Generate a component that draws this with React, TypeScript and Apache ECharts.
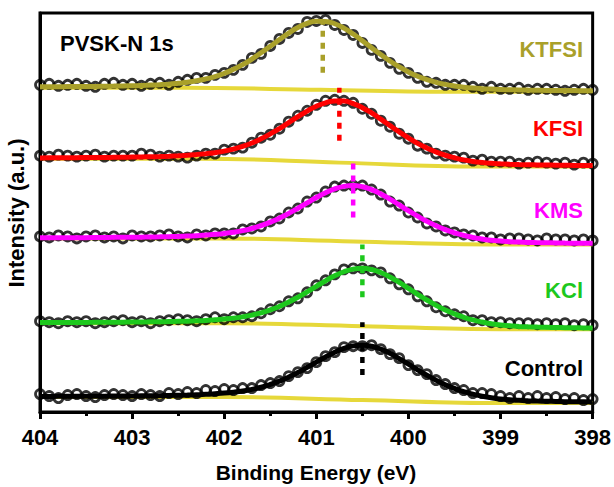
import React, { useEffect, useRef } from "react";
import * as echarts from "echarts";

// Binding energies (eV), 0.1 eV step
const energies = [
  404, 403.9, 403.8, 403.7, 403.6, 403.5, 403.4, 403.3, 403.2, 403.1,
  403, 402.9, 402.8, 402.7, 402.6, 402.5, 402.4, 402.3, 402.2, 402.1,
  402, 401.9, 401.8, 401.7, 401.6, 401.5, 401.4, 401.3, 401.2, 401.1,
  401, 400.9, 400.8, 400.7, 400.6, 400.5, 400.4, 400.3, 400.2, 400.1,
  400, 399.9, 399.8, 399.7, 399.6, 399.5, 399.4, 399.3, 399.2, 399.1,
  399, 398.9, 398.8, 398.7, 398.6, 398.5, 398.4, 398.3, 398.2, 398.1,
  398,
];

const xTicks = [404, 403, 402, 401, 400, 399, 398];

// ---- KTFSI ----
const ktfsiFit = [
  326.0, 326.0, 326.1, 326.2, 326.2, 326.4, 326.4, 326.6, 326.7, 326.9,
  327.1, 327.3, 327.7, 328.1, 328.7, 329.6, 330.6, 332.0, 333.9, 336.2,
  339.4, 343.5, 348.2, 353.8, 360.1, 366.6, 373.4, 379.9, 385.4, 389.6,
  391.8, 391.6, 389.2, 384.8, 378.9, 372.2, 365.2, 358.3, 351.8, 346.0,
  340.9, 336.6, 333.2, 330.5, 328.4, 326.8, 325.6, 324.7, 324.1, 323.7,
  323.3, 323.1, 322.9, 322.7, 322.6, 322.4, 322.4, 322.2, 322.2, 322.1,
  322.0,
];
const ktfsiData = [
  328, 329, 327, 328, 329, 327, 326, 329, 330, 328,
  329, 327, 329, 330, 328, 331, 333, 335, 335, 338,
  340, 343, 348, 355, 359, 367, 374, 380, 384, 391,
  392, 393, 388, 383, 378, 370, 363, 357, 350, 344,
  340, 335, 331, 330, 328, 328, 328, 326, 324, 326,
  324, 324, 325, 323, 324, 324, 323, 322, 323, 324,
  323,
];
const ktfsiBgE = [404, 402.45, 400.95, 399.45, 398];
const ktfsiBgV = [325, 325, 323, 321, 321];

// ---- KFSI ----
const kfsiFit = [
  254.7, 254.8, 254.9, 254.9, 255.0, 255.1, 255.1, 255.2, 255.3, 255.4,
  255.6, 255.7, 255.9, 256.1, 256.4, 256.8, 257.3, 258.1, 259.0, 260.0,
  261.5, 263.6, 266.3, 269.7, 273.9, 278.8, 284.2, 290.1, 296.0, 301.6,
  306.5, 310.0, 311.9, 311.7, 309.2, 305.1, 299.8, 293.6, 287.1, 280.8,
  274.8, 269.3, 264.7, 260.7, 257.4, 254.9, 252.8, 251.2, 250.1, 249.3,
  248.8, 248.4, 248.1, 247.9, 247.7, 247.6, 247.4, 247.3, 247.2, 247.1,
  247.1,
];
const kfsiData = [
  257, 256, 258, 257, 256, 257, 258, 256, 257, 257,
  257, 259, 258, 256, 257, 256, 255, 257, 259, 259,
  263, 264, 265, 270, 275, 278, 284, 291, 297, 302,
  308, 312, 313, 312, 310, 304, 299, 292, 286, 279,
  274, 267, 264, 259, 257, 256, 255, 252, 253, 251,
  251, 251, 249, 250, 251, 250, 249, 250, 248, 250,
  249,
];
const kfsiBgE = [404, 402.25, 400.75, 399.25, 398];
const kfsiBgV = [254, 254, 250, 246, 246];

// ---- KMS ----
const kmsFit = [
  174.6, 174.7, 174.7, 174.7, 174.8, 174.8, 174.9, 175.0, 175.1, 175.1,
  175.2, 175.3, 175.5, 175.6, 175.8, 176.0, 176.4, 176.7, 177.4, 178.1,
  179.0, 180.2, 181.8, 184.0, 186.8, 190.3, 194.4, 199.1, 204.2, 209.6,
  215.0, 219.8, 223.7, 226.2, 227.0, 225.8, 222.9, 218.6, 213.4, 207.6,
  201.8, 196.3, 191.2, 186.7, 182.8, 179.6, 177.0, 175.0, 173.4, 172.1,
  171.4, 170.7, 170.4, 170.0, 169.8, 169.6, 169.5, 169.3, 169.2, 169.1,
  169.1,
];
const kmsData = [
  176, 175, 177, 176, 174, 176, 177, 175, 176, 174,
  177, 176, 176, 177, 178, 176, 175, 178, 177, 179,
  179, 179, 183, 184, 186, 191, 194, 200, 204, 211,
  215, 221, 226, 227, 227, 227, 223, 218, 211, 207,
  200, 195, 189, 186, 182, 180, 178, 177, 175, 175,
  173, 174, 174, 173, 172, 174, 173, 173, 172, 173,
  172,
];
const kmsBgE = [404, 402.1, 400.6, 399.1, 398];
const kmsBgV = [174, 174, 171, 168, 168];

// ---- KCl ----
const kclFit = [
  89.6, 89.6, 89.7, 89.7, 89.8, 89.8, 89.9, 89.9, 90.0, 90.1,
  90.2, 90.3, 90.4, 90.5, 90.7, 90.9, 91.1, 91.4, 91.8, 92.5,
  93.2, 94.1, 95.4, 97.1, 99.4, 102.3, 105.9, 110.2, 115.1, 120.4,
  126.0, 131.5, 136.5, 140.6, 143.2, 144.0, 142.8, 139.8, 135.3, 129.9,
  124.0, 118.0, 112.3, 107.0, 102.3, 98.3, 95.0, 92.3, 90.2, 88.5,
  87.2, 86.5, 85.8, 85.4, 85.1, 84.9, 84.7, 84.5, 84.4, 84.3,
  84.2,
];
const kclData = [
  91, 90, 89, 91, 90, 91, 89, 90, 91, 92,
  90, 91, 89, 91, 92, 93, 92, 91, 93, 95,
  93, 95, 95, 96, 99, 103, 106, 111, 114, 120,
  127, 132, 138, 143, 144, 144, 142, 140, 134, 128,
  123, 116, 111, 105, 101, 98, 96, 92, 92, 90,
  90, 89, 89, 89, 88, 89, 88, 89, 87, 88,
  87,
];
const kclBgE = [404, 402, 400.5, 399, 398];
const kclBgV = [89, 89, 86, 83, 83];

// ---- Control ----
const controlFit = [
  15.6, 15.6, 15.7, 15.7, 15.8, 15.8, 15.8, 15.9, 16.0, 16.0,
  16.1, 16.2, 16.3, 16.4, 16.6, 16.8, 17.0, 17.3, 17.7, 18.3,
  19.0, 19.9, 21.0, 22.7, 24.8, 27.6, 31.0, 35.0, 39.6, 44.7,
  50.0, 55.2, 60.0, 63.8, 66.3, 67.0, 65.9, 63.0, 58.8, 53.6,
  48.0, 42.3, 36.8, 31.8, 27.4, 23.6, 20.4, 17.9, 15.8, 14.3,
  13.0, 12.3, 11.7, 11.3, 11.0, 10.8, 10.6, 10.4, 10.3, 10.2,
  10.1,
];
const controlData = [
  18, 16, 14, 17, 18, 16, 15, 17, 18, 17,
  16, 18, 17, 16, 19, 18, 20, 19, 22, 21,
  23, 22, 24, 24, 27, 29, 31, 36, 40, 44,
  50, 56, 60, 65, 66, 66, 67, 63, 58, 54,
  47, 42, 38, 32, 28, 24, 22, 19, 19, 18,
  16, 14, 16, 14, 16, 14, 15, 13, 14, 12,
  13,
];
const controlBgE = [404, 402, 400.5, 399, 398];
const controlBgV = [15, 15, 12, 9, 9];

// sample names, peak positions and the span of each dotted peak marker
const sampleNames = ["KTFSI", "KFSI", "KMS", "KCl", "Control"];
const peakPositions = [400.93, 400.75, 400.6, 400.5, 400.5];
const markerLow = [340, 272, 195, 115, 37];
const markerHigh = [392, 325, 249, 168, 90];

const FONT = '"Liberation Sans", Arial, Helvetica, sans-serif';
const BG_YELLOW = "#E6D83A";
const COLORS = ["#A9A02A", "#FF0000", "#FF00FF", "#1DC81D", "#000000"];
const LABEL_Y = [49, 128, 210, 290, 368];

export default function App() {
  const ref = useRef<HTMLDivElement>(null);

  useEffect(() => {
    if (!ref.current) return;
    const chart = echarts.init(ref.current, null, { renderer: "svg" });

    const fits = [ktfsiFit, kfsiFit, kmsFit, kclFit, controlFit];
    const datas = [ktfsiData, kfsiData, kmsData, kclData, controlData];
    const bgEs = [ktfsiBgE, kfsiBgE, kmsBgE, kclBgE, controlBgE];
    const bgVs = [ktfsiBgV, kfsiBgV, kmsBgV, kclBgV, controlBgV];

    const series: any[] = [];
    sampleNames.forEach((name, k) => {
      series.push({
        name: name + " background",
        type: "line",
        data: bgEs[k].map((e, i) => [e, bgVs[k][i]]),
        smooth: 0.4,
        showSymbol: false,
        silent: true,
        lineStyle: { color: BG_YELLOW, width: 4 },
        z: 1,
      });
      series.push({
        name: name + " data",
        type: "scatter",
        data: energies.map((e, i) => [e, datas[k][i]]),
        symbol: "circle",
        symbolSize: 9,
        silent: true,
        itemStyle: {
          color: "rgba(255,255,255,0)",
          borderColor: "#000",
          borderWidth: 2.8,
        },
        z: 2,
      });
      series.push({
        name: name + " fit",
        type: "line",
        data: energies.map((e, i) => [e, fits[k][i]]),
        smooth: true,
        showSymbol: false,
        silent: true,
        lineStyle: { color: COLORS[k], width: 5 },
        z: 3,
      });
      series.push({
        name: name + " peak",
        type: "line",
        data: [
          [peakPositions[k], markerLow[k]],
          [peakPositions[k], markerHigh[k]],
        ],
        showSymbol: false,
        silent: true,
        lineStyle: { color: COLORS[k], width: 4.5, type: [6, 6] },
        z: 4,
      });
    });

    const graphic: any[] = [
      {
        type: "text",
        x: 60,
        y: 43,
        style: {
          text: "PVSK-N 1s",
          fill: "#000",
          font: `bold 22px ${FONT}`,
          align: "left",
          textAlign: "left",
          verticalAlign: "middle",
          textVerticalAlign: "middle",
        },
        z: 10,
      },
      {
        type: "text",
        x: 316,
        y: 472,
        style: {
          text: "Binding Energy (eV)",
          fill: "#000",
          font: `bold 21px ${FONT}`,
          align: "center",
          textAlign: "center",
          verticalAlign: "middle",
          textVerticalAlign: "middle",
        },
        z: 10,
      },
      {
        type: "text",
        x: 16,
        y: 213,
        rotation: Math.PI / 2,
        style: {
          text: "Intensity (a.u.)",
          fill: "#000",
          font: `bold 22px ${FONT}`,
          align: "center",
          textAlign: "center",
          verticalAlign: "middle",
          textVerticalAlign: "middle",
        },
        z: 10,
      },
    ];
    sampleNames.forEach((name, k) => {
      graphic.push({
        type: "text",
        x: 583,
        y: LABEL_Y[k],
        style: {
          text: name,
          fill: COLORS[k],
          font: `bold 22px ${FONT}`,
          align: "right",
          textAlign: "right",
          verticalAlign: "middle",
          textVerticalAlign: "middle",
        },
        z: 10,
      });
    });

    chart.setOption({
      animation: false,
      backgroundColor: "#ffffff",
      grid: {
        left: 40,
        right: 21,
        top: 13,
        bottom: 75,
        show: true,
        borderColor: "#000",
        borderWidth: 3,
        backgroundColor: "transparent",
      },
      xAxis: {
        type: "value",
        min: xTicks[xTicks.length - 1],
        max: xTicks[0],
        interval: 1,
        inverse: true,
        axisLine: { show: true, lineStyle: { color: "#000", width: 3 } },
        axisTick: { show: true, inside: false, length: 7, lineStyle: { color: "#000", width: 3 } },
        minorTick: { show: true, splitNumber: 2, length: 4, lineStyle: { color: "#000", width: 3 } },
        splitLine: { show: false },
        minorSplitLine: { show: false },
        axisLabel: {
          color: "#000",
          fontSize: 22,
          fontWeight: "bold",
          fontFamily: FONT,
          margin: 14,
        },
      },
      yAxis: {
        type: "value",
        min: 0,
        max: 400,
        axisLine: { show: true, lineStyle: { color: "#000", width: 3 } },
        axisTick: { show: false },
        axisLabel: { show: false },
        splitLine: { show: false },
      },
      graphic,
      series,
    });

    return () => chart.dispose();
  }, []);

  return (
    <div
      ref={ref}
      style={{ position: "fixed", left: 0, top: 0, width: 614, height: 487, background: "#fff" }}
    />
  );
}
